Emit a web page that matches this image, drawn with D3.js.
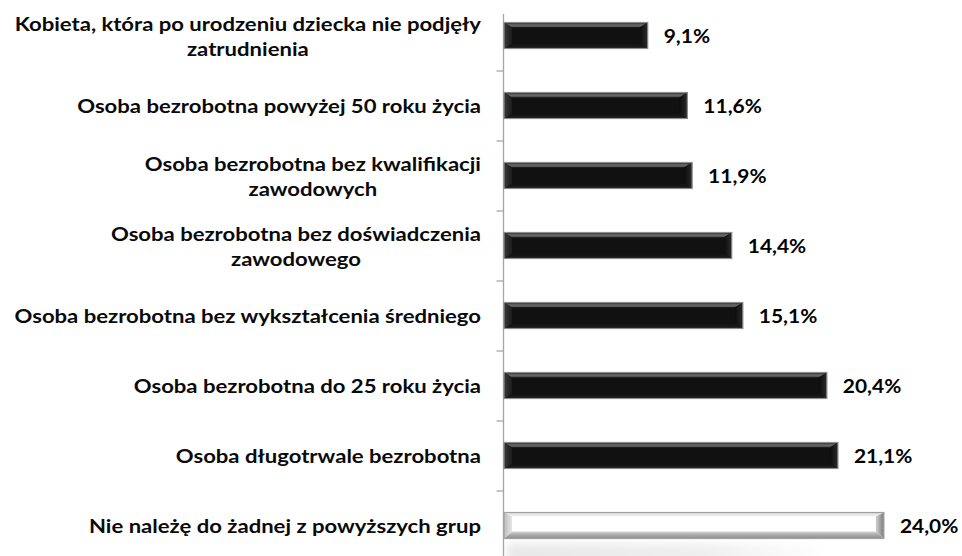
<!DOCTYPE html>
<html><head><meta charset="utf-8">
<script src="https://cdn.jsdelivr.net/npm/d3@7"></script>
<style>html,body{margin:0;padding:0;background:#fff;}svg{display:block;}</style>
</head><body><svg id="c" width="962" height="556"></svg>
<script>
const categories = [
  "Kobieta, która po urodzeniu dziecka nie podjęły\nzatrudnienia",
  "Osoba bezrobotna powyżej 50 roku życia",
  "Osoba bezrobotna bez kwalifikacji\nzawodowych",
  "Osoba bezrobotna bez doświadczenia\nzawodowego",
  "Osoba bezrobotna bez wykształcenia średniego",
  "Osoba bezrobotna do 25 roku życia",
  "Osoba długotrwale bezrobotna",
  "Nie należę do żadnej z powyższych grup"
];
const values = [9.1, 11.6, 11.9, 14.4, 15.1, 20.4, 21.1, 24.0];
const valueLabels = ["9,1%", "11,6%", "11,9%", "14,4%", "15,1%", "20,4%", "21,1%", "24,0%"];
const highlighted = [false, false, false, false, false, false, false, true];

const svg = d3.select("#c");
const axisX = 503.5;
const x = d3.scaleLinear().domain([0, 1]).range([axisX, axisX + 15.85]);
const y = d3.scaleBand().domain(categories).range([0.5, 560.5]).paddingInner(0.6286).paddingOuter(0.3143);

const defs = svg.append("defs");
function lg(id, stops, x1, y1, x2, y2) {
  const g = defs.append("linearGradient").attr("id", id)
    .attr("x1", x1).attr("y1", y1).attr("x2", x2).attr("y2", y2);
  stops.forEach(s => g.append("stop").attr("offset", s[0]).attr("stop-color", s[1]));
}
lg("dTop", [[0, "#1a1a1a"], [0.35, "#5a5a5a"], [0.7, "#6a6a6a"], [1, "#2a2a2a"]], 0, 0, 0, 1);
lg("dLeft", [[0, "#3a3a3a"], [1, "#1c1c1c"]], 0, 0, 1, 0);
lg("dRight", [[0, "#0c0c0c"], [1, "#2a2a2a"]], 0, 0, 1, 0);
lg("dBot", [[0, "#111"], [1, "#1d1d1d"]], 0, 0, 0, 1);
lg("lTop", [[0, "#d9d9d9"], [1, "#f4f4f4"]], 0, 0, 0, 1);
lg("lBot", [[0, "#d2d2d2"], [0.5, "#a9a9a9"], [1, "#8f8f8f"]], 0, 0, 0, 1);
lg("lLeft", [[0, "#bdbdbd"], [1, "#e6e6e6"]], 0, 0, 1, 0);
lg("lRight", [[0, "#d0d0d0"], [1, "#7a7a7a"]], 0, 0, 1, 0);
lg("shadow", [[0, "#e8e8e8"], [0.6, "#efefef"], [1, "#ffffff"]], 0, 0, 1, 0);
defs.append("filter").attr("id", "blur").attr("x", "-20%").attr("y", "-50%").attr("width", "140%").attr("height", "200%")
  .append("feGaussianBlur").attr("stdDeviation", 4);

const last = categories[categories.length - 1];
svg.append("rect")
  .attr("x", x(0) + 4).attr("y", y(last) + y.bandwidth() + 5)
  .attr("width", (x(values[values.length - 1]) - x(0)) * 0.85).attr("height", 26)
  .attr("fill", "url(#shadow)").attr("filter", "url(#blur)");

svg.append("line").attr("x1", axisX).attr("x2", axisX).attr("y1", 14).attr("y2", 560)
  .attr("stroke", "#a6a6a6").attr("stroke-width", 1.3);
const boundaries = categories.slice(1).map(c => y(c) - y.step() * y.paddingOuter());
svg.selectAll(".tk").data(boundaries).join("line").attr("class", "tk")
  .attr("x1", axisX - 7).attr("x2", axisX).attr("y1", d => Math.round(d)).attr("y2", d => Math.round(d))
  .attr("stroke", "#a6a6a6").attr("stroke-width", 1.3);

const bars = svg.selectAll(".bar").data(categories.map((c, i) => ({c, v: values[i], hl: highlighted[i]})))
  .join("g").attr("class", "bar");
bars.each(function(d) {
  const g = d3.select(this);
  const x0 = x(0) + 0.5, x1 = x(d.v), y0 = y(d.c), h = y.bandwidth(), y1 = y0 + h;
  const bx = 8, bt = d.hl ? 4 : 5, bb = d.hl ? 7 : 5;
  const p = pts => pts.map(q => q.join(",")).join(" ");
  const pre = d.hl ? "l" : "d";
  g.append("rect").attr("x", x0).attr("y", y0).attr("width", x1 - x0).attr("height", h)
    .attr("fill", d.hl ? "#ffffff" : "#111111");
  g.append("polygon").attr("points", p([[x0, y0], [x1, y0], [x1 - bx, y0 + bt], [x0 + bx, y0 + bt]])).attr("fill", `url(#${pre}Top)`);
  g.append("polygon").attr("points", p([[x0, y1], [x1, y1], [x1 - bx, y1 - bb], [x0 + bx, y1 - bb]])).attr("fill", `url(#${pre}Bot)`);
  g.append("polygon").attr("points", p([[x0, y0], [x0 + bx, y0 + bt], [x0 + bx, y1 - bb], [x0, y1]])).attr("fill", `url(#${pre}Left)`);
  g.append("polygon").attr("points", p([[x1, y0], [x1 - bx, y0 + bt], [x1 - bx, y1 - bb], [x1, y1]])).attr("fill", `url(#${pre}Right)`);
  g.append("rect").attr("x", x0).attr("y", y0).attr("width", x1 - x0).attr("height", h)
    .attr("fill", "none").attr("stroke", d.hl ? "#a0a0a0" : "#8c8c8c").attr("stroke-width", 1.2);
});

// category labels: real text, sized by cap height, compressed horizontally to the reference width
const labelRight = 481;
const labelFont = "Lato, 'Open Sans', sans-serif";
const labelSize = 19.5;
const probe = svg.append("text").attr("font-family", labelFont).attr("font-size", labelSize).attr("font-weight", 700)
  .text("Osoba bezrobotna powyżej 50 roku życia");
const lsx = 404 / probe.node().getComputedTextLength();
probe.remove();
const lineH = 25;
svg.selectAll(".lab").data(categories).join("g").attr("class", "lab").each(function(c) {
  const g = d3.select(this).attr("transform", `translate(${labelRight},0) scale(${lsx},1)`);
  const lines = c.split("\n");
  const cy = y(c) + y.bandwidth() / 2;
  const ts = lines.map((t, i) => g.append("text").attr("font-family", labelFont).attr("font-size", labelSize)
    .attr("font-weight", 700).attr("fill", "#0a0a0a").attr("dominant-baseline", "central")
    .attr("y", cy + (i - (lines.length - 1) / 2) * lineH).text(t));
  const w = d3.max(ts, t => t.node().getComputedTextLength());
  ts.forEach(t => t.attr("text-anchor", "middle").attr("x", -w / 2));
});

// value labels
const valSize = 19;
const vprobe = svg.append("text").attr("font-family", labelFont).attr("font-size", valSize).attr("font-weight", 700).text("20,4%");
const vsx = 58.5 / vprobe.node().getComputedTextLength();
vprobe.remove();
svg.selectAll(".val").data(categories).join("text").attr("class", "val")
  .attr("transform", (c, i) => `translate(${x(values[i]) + 16},${y(c) + y.bandwidth() / 2}) scale(${vsx},1)`)
  .attr("dominant-baseline", "central").attr("font-family", labelFont).attr("font-size", valSize)
  .attr("font-weight", 700).attr("fill", "#000").text((c, i) => valueLabels[i]);
</script></body></html>
